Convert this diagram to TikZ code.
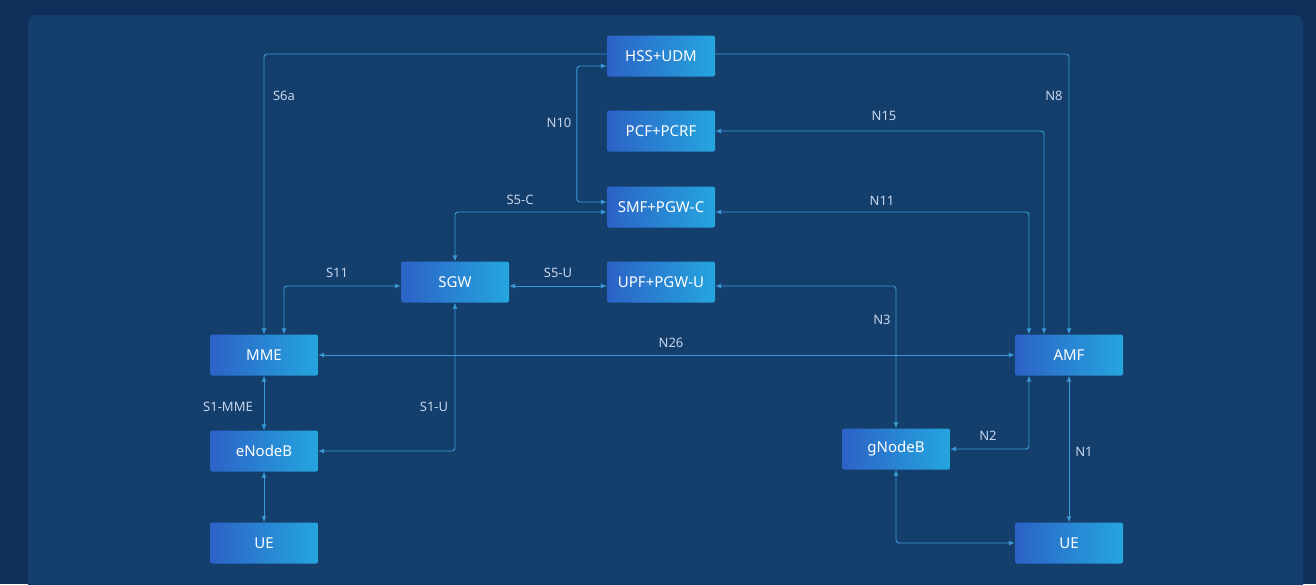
\documentclass[tikz,border=0pt]{standalone}
\usepackage{fontspec}
\setmainfont{Noto Sans}
\usetikzlibrary{arrows.meta}
\definecolor{bgout}{HTML}{0F2E5A}
\definecolor{bgin}{HTML}{143E6C}
\definecolor{boxl}{HTML}{2C62C6}
\definecolor{boxr}{HTML}{25A6DF}
\definecolor{linkc}{HTML}{3A9AD6}
\definecolor{lblc}{HTML}{C6D6EC}
\tikzset{
  nf/.style={rectangle, rounded corners=2pt, minimum width=108pt, minimum height=41pt,
    left color=boxl, right color=boxr, text=white, inner sep=0pt,
    font=\fontsize{15}{18}\selectfont},
  link/.style={draw=linkc, line width=0.9pt, rounded corners=3pt},
  bi/.style={link, {Latex[length=6pt,width=5pt]}-{Latex[length=6pt,width=5pt]}},
  uni/.style={link, -{Latex[length=6pt,width=5pt]}},
  lbl/.style={text=lblc, font=\fontsize{13}{15}\selectfont, inner sep=0pt}
}
\begin{document}
\begin{tikzpicture}[x=1pt,y=-1pt]
\useasboundingbox (0,0) rectangle (1316,584);
\fill[bgout] (0,0) rectangle (1316,584);
\fill[bgin, rounded corners=8pt] (28,15) rectangle (1303,610);
% nodes
\node[nf] (hss) at (661,56) {HSS+UDM};
\node[nf] (pcf) at (661,131) {PCF+PCRF};
\node[nf] (smf) at (661,207) {SMF+PGW-C};
\node[nf] (upf) at (661,282) {UPF+PGW-U};
\node[nf] (sgw) at (455,282) {SGW};
\node[nf] (mme) at (264,355) {MME};
\node[nf] (enb) at (264,451) {eNodeB};
\node[nf] (uea) at (264,543) {UE};
\node[nf] (amf) at (1069,355) {AMF};
\node[nf] (gnb) at (896,449) {gNodeB};
\node[nf] (ueb) at (1069,543) {UE};
% connectors
\draw[uni] ([yshift=2pt]hss.west) -| (mme.north);
\draw[uni] ([yshift=2pt]hss.east) -| (amf.north);
\draw[bi] ([yshift=-10pt]hss.west) -| ([xshift=-30pt,yshift=5pt]smf.west) -- ([yshift=5pt]smf.west);
\draw[bi] (pcf.east) -| ([xshift=-25pt]amf.north);
\draw[bi] ([yshift=-5pt]smf.east) -| ([xshift=-40pt]amf.north);
\draw[bi] ([yshift=-5pt]smf.west) -| (sgw.north);
\draw[bi] ([yshift=-4pt]sgw.west) -| ([xshift=20pt]mme.north);
\draw[bi] ([yshift=-4pt]sgw.east) -- ([yshift=-4pt]upf.west);
\draw[bi] ([yshift=-4pt]upf.east) -| (gnb.north);
\draw[bi] (mme.east) -- (amf.west);
\draw[bi] (mme.south) -- (enb.north);
\draw[bi] (sgw.south) |- (enb.east);
\draw[bi] (enb.south) -- (uea.north);
\draw[bi] ([xshift=-40pt]amf.south) |- (gnb.east);
\draw[bi] (amf.south) -- (ueb.north);
\draw[bi] (gnb.south) |- (ueb.west);
% labels
\node[lbl] (l1) at (284,96) {S6a};
\node[lbl] (l2) at (1054,96) {N8};
\node[lbl] (l3) at (559,123) {N10};
\node[lbl] (l4) at (884,116) {N15};
\node[lbl] (l5) at (882,201) {N11};
\node[lbl] (l6) at (520,200) {S5-C};
\node[lbl] (l7) at (337,273) {S11};
\node[lbl] (l8) at (558,273) {S5-U};
\node[lbl] (l9) at (882,320) {N3};
\node[lbl] (l10) at (671,343) {N26};
\node[lbl] (l11) at (228,407) {S1-MME};
\node[lbl] (l12) at (434,407) {S1-U};
\node[lbl] (l13) at (988,436) {N2};
\node[lbl] (l14) at (1084,452) {N1};
\end{tikzpicture}
\end{document}
